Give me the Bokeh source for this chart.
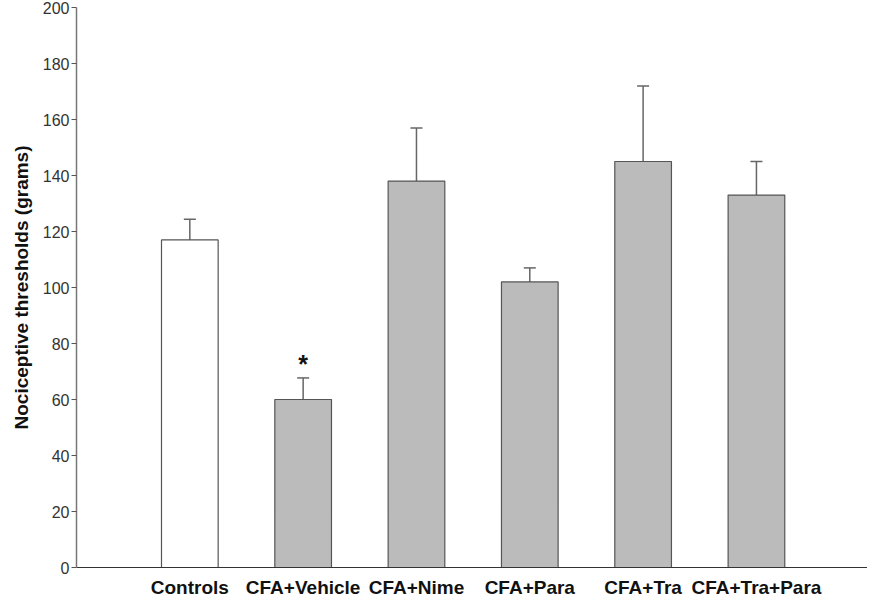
from bokeh.plotting import figure
from bokeh.models import ColumnDataSource, Range1d, FixedTicker, Whisker, TeeHead
from bokeh.core.properties import value
from bokeh.embed import file_html
from bokeh.resources import INLINE

categories = ["Controls", "CFA+Vehicle", "CFA+Nime", "CFA+Para", "CFA+Tra", "CFA+Tra+Para"]
means = [117, 60, 138, 102, 145, 133]
sems = [7.4, 7.7, 19, 5, 27, 12]
y_ticks = [0, 20, 40, 60, 80, 100, 120, 140, 160, 180, 200]
significant = ["CFA+Vehicle"]

xs = [i + 1 for i in range(len(categories))]
uppers = [m + s for m, s in zip(means, sems)]
fills = ["white" if c == "Controls" else "#bbbbbb" for c in categories]

src = ColumnDataSource(dict(x=xs, top=means, upper=uppers, fill=fills, cat=categories))

FONT = "Liberation Sans"

p = figure(width=867, height=600, output_backend="svg", toolbar_location=None,
           x_range=Range1d(0, 6.98), y_range=Range1d(0, 200),
           min_border_left=76, min_border_top=7, min_border_bottom=32, min_border_right=0)
p.outline_line_color = None
p.xgrid.visible = False
p.ygrid.visible = False
p.background_fill_color = "white"
p.border_fill_color = "white"

p.vbar(x="x", top="top", bottom=0, width=0.5, source=src, fill_color="fill",
       line_color="#555555", line_width=1.2)

w = Whisker(source=src, base="x", upper="upper", lower="top", line_color="#666666",
            line_width=1.5, lower_head=None,
            upper_head=TeeHead(size=12, line_color="#666666", line_width=1.5))
p.add_layout(w)

sx = [xs[categories.index(c)] for c in significant]
sy = [uppers[categories.index(c)] + 5 for c in significant]
p.text(x=sx, y=sy, text=["*"] * len(sx), text_align="center", text_baseline="alphabetic",
       text_font=value(FONT), text_font_size="25px", text_font_style="bold", text_color="#111111")

# y axis
p.yaxis.ticker = FixedTicker(ticks=y_ticks)
p.yaxis.axis_label = "Nociceptive thresholds (grams)"
p.yaxis.axis_label_text_font = FONT
p.yaxis.axis_label_text_font_size = "19px"
p.yaxis.axis_label_text_font_style = "bold"
p.yaxis.axis_label_text_color = "#111111"
p.yaxis.axis_label_standoff = 8
p.yaxis.major_label_text_font = FONT
p.yaxis.major_label_text_font_size = "16px"
p.yaxis.major_label_text_color = "#333333"
p.yaxis.major_label_standoff = 2
p.yaxis.axis_line_color = "#777777"
p.yaxis.axis_line_width = 1.5
p.yaxis.major_tick_line_color = "#555555"
p.yaxis.major_tick_out = 5
p.yaxis.major_tick_in = 0
p.yaxis.minor_tick_line_color = None

# x axis
p.xaxis.ticker = FixedTicker(ticks=xs)
p.xaxis.major_label_overrides = {x: c for x, c in zip(xs, categories)}
p.xaxis.major_label_text_font = FONT
p.xaxis.major_label_text_font_size = "19px"
p.xaxis.major_label_text_font_style = "bold"
p.xaxis.major_label_text_color = "#111111"
p.xaxis.major_label_standoff = 9
p.xaxis.axis_line_color = "#333333"
p.xaxis.axis_line_width = 1.2
p.xaxis.major_tick_line_color = None
p.xaxis.major_tick_out = 0
p.xaxis.major_tick_in = 0
p.xaxis.minor_tick_line_color = None

open("out.html", "w").write(file_html(p, INLINE))
